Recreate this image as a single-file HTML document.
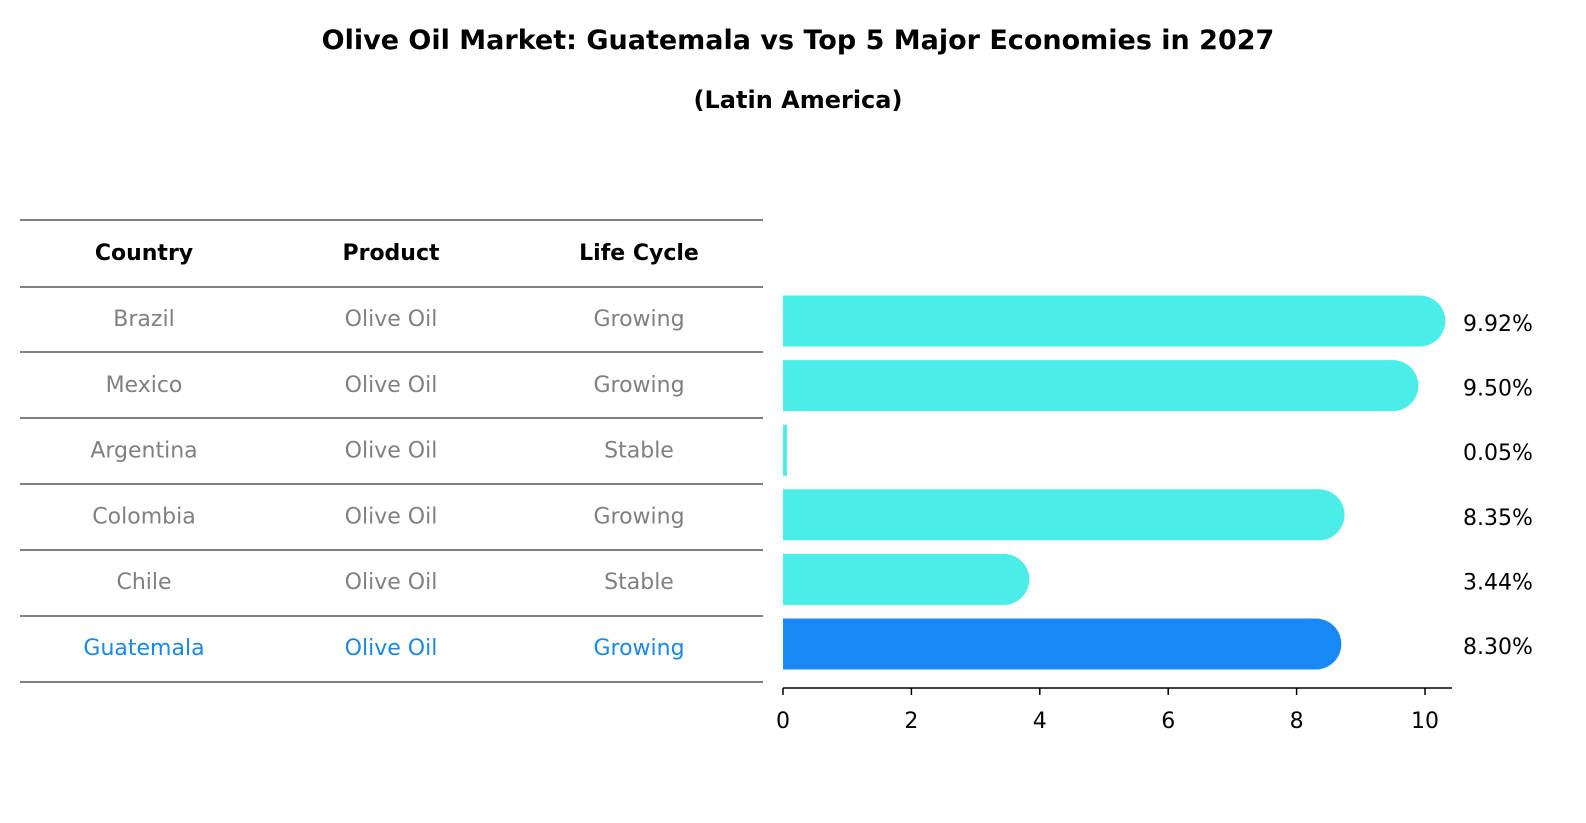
<!DOCTYPE html>
<html><head><meta charset="utf-8"><style>
html,body{margin:0;padding:0;background:#fff;overflow:hidden;width:1586px;height:823px;font-family:"DejaVu Sans","Liberation Sans",sans-serif;}
#wrap{position:relative;width:1586px;height:823px;overflow:hidden;}
svg{display:block;}
</style></head><body>
<div id="wrap">
<svg id="svg" width="1586" height="823" xmlns="http://www.w3.org/2000/svg" font-family="DejaVu Sans, Liberation Sans, sans-serif">
<text x="798" y="49" text-anchor="middle" font-size="27" font-weight="bold">Olive Oil Market: Guatemala vs Top 5 Major Economies in 2027</text>
<text x="798" y="108" text-anchor="middle" font-size="24" font-weight="bold">(Latin America)</text>
<g id="table"></g>
<g id="bars"></g>
</svg>
</div>
<script>
const countries=["Brazil","Mexico","Argentina","Colombia","Chile","Guatemala"];
const products=["Olive Oil","Olive Oil","Olive Oil","Olive Oil","Olive Oil","Olive Oil"];
const lifeCycles=["Growing","Growing","Stable","Growing","Stable","Growing"];
const values=[9.92,9.50,0.05,8.35,3.44,8.30];
const ticks=[0,2,4,6,8,10];
const NS="http://www.w3.org/2000/svg";
function mk(tag,attrs,parent,text){const e=document.createElementNS(NS,tag);for(const k in attrs)e.setAttribute(k,attrs[k]);if(text!==undefined)e.textContent=text;parent.appendChild(e);return e;}
const x=v=>783+v*64.2;
const rowY=i=>321+i*64.6;
const tbl=document.getElementById('table');
const lineYs=[220,287,352,418,484,550,616,682];
lineYs.forEach(y=>{const l=mk('line',{x1:20,x2:763,y1:y,y2:y,stroke:'#000','stroke-width':1},tbl);

});
const colX=[144,391,639];
["Country","Product","Life Cycle"].forEach((h,j)=>{const t=mk('text',{x:colX[j],y:260,'text-anchor':'middle','font-size':22,'font-weight':'bold'},tbl,h);

});
countries.forEach((c,i)=>{const cy=318+i*65.8+8;const col=c==="Guatemala"?'#1a88e6':'#808080';
[c,products[i],lifeCycles[i]].forEach((v,j)=>{const t=mk('text',{x:colX[j],y:cy,'text-anchor':'middle','font-size':22,fill:col},tbl,v);

});});
const bars=document.getElementById('bars');
const h=51,r=25.5;
values.forEach((v,i)=>{const cy=rowY(i);const col=countries[i]==="Guatemala"?'#1a88f5':'#4bede9';
const w=x(v)-x(0);
const g=mk('g',{},bars);


if(w>r){mk('rect',{x:x(0),y:cy-h/2,width:w,height:h,fill:col},g);
mk('circle',{cx:x(v),cy:cy,r:r,fill:col},g);}
else{mk('rect',{x:x(0),y:cy-h/2,width:Math.max(w,4),height:h,fill:col},g);}
const t=mk('text',{x:1463,y:cy+10,'font-size':22},bars,v.toFixed(2)+'%');

});
const ax=mk('line',{x1:783,x2:1452,y1:688,y2:688,stroke:'#000','stroke-width':1.5},bars);


ticks.forEach(tv=>{mk('line',{x1:x(tv),x2:x(tv),y1:688,y2:695,stroke:'#000','stroke-width':1.5},bars);
const t=mk('text',{x:x(tv),y:728,'text-anchor':'middle','font-size':22},bars,String(tv));

});
</script>
</body></html>
